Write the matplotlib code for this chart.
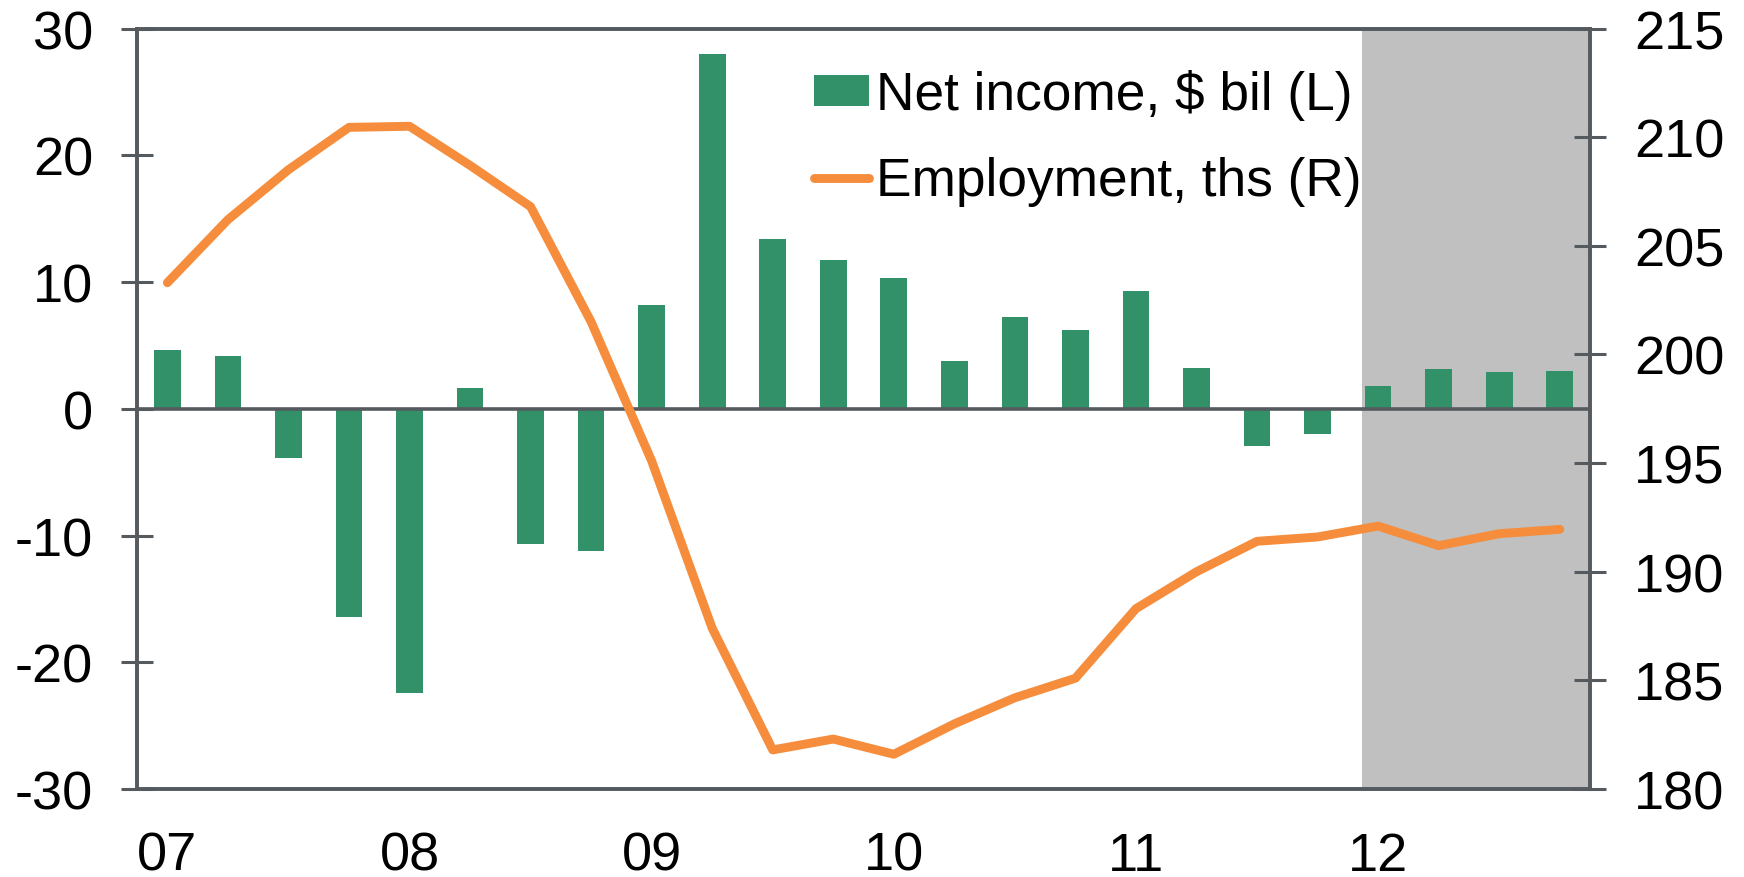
import numpy as np
import matplotlib
matplotlib.use("Agg")
import matplotlib.pyplot as plt

plt.rcParams['font.family'] = ['Liberation Sans', 'DejaVu Sans']
plt.rcParams['axes.unicode_minus'] = False

# quarterly data, 2007Q1 - 2012Q4
quarters = [f"{y}Q{q}" for y in range(7, 13) for q in range(1, 5)]
net_income = [4.6, 4.2, -3.9, -16.4, -22.4, 1.6, -10.7, -11.2,
              8.2, 28.0, 13.4, 11.7, 10.3, 3.8, 7.2, 6.2,
              9.3, 3.2, -2.9, -2.0, 1.8, 3.1, 2.9, 3.0]
employment = [203.3, 206.2, 208.5, 210.45, 210.5, 208.7, 206.8, 201.5,
              195.1, 187.4, 181.8, 182.3, 181.6, 183.0, 184.2, 185.1,
              188.3, 190.0, 191.4, 191.6, 192.1, 191.2, 191.75, 191.95]
year_labels = ["07", "08", "09", "10", "11", "12"]
forecast_start = 19.73

green = "#33916a"
orange = "#f58d3c"
axis_col = "#555a5f"

x = np.arange(len(quarters))

fig = plt.figure(figsize=(17.44, 8.78), dpi=100)
ax = fig.add_axes([0.0786, 0.1002, 0.8331, 0.8662])
ax2 = ax.twinx()

ax.axvspan(forecast_start, len(quarters) - 0.5, color="#c0c0c0", zorder=0, lw=0)
bars = ax.bar(x, net_income, width=0.44, color=green, zorder=2,
              label="Net income, $ bil (L)")
ax.axhline(0, color=axis_col, lw=2.6, zorder=3)

line, = ax2.plot(x, employment, color=orange, lw=6.4, solid_capstyle="round",
                 label="Employment, ths (R)")

ax.set_xlim(-0.5, len(quarters) - 0.5)
ax.set_ylim(-30, 30)
ax.set_yticks(np.arange(-30, 31, 10))
ax2.set_ylim(180, 215)
ax2.set_yticks(np.arange(180, 216, 5))

ax.set_xticks(x[::4])
ax.set_xticklabels(year_labels)

for a in (ax, ax2):
    for s in a.spines.values():
        s.set_color(axis_col)
        s.set_linewidth(2.6)

ax.tick_params(axis="y", direction="inout", length=23, width=2.2, color=axis_col,
               labelsize=39, pad=20)
ax2.tick_params(axis="y", direction="inout", length=23, width=2.2, color=axis_col,
                labelsize=39, pad=20)
ax.tick_params(axis="x", length=0, labelsize=39, pad=30)

fig.legend([bars, line], [bars.get_label(), line.get_label()],
           loc="upper left", bbox_to_anchor=(0.4665, 0.92),
           frameon=False, fontsize=38.3, handlelength=1.05, handleheight=0.5,
           handletextpad=0.13, labelspacing=0.67, borderpad=0, borderaxespad=0)

fig.savefig("out.png", dpi=100)
